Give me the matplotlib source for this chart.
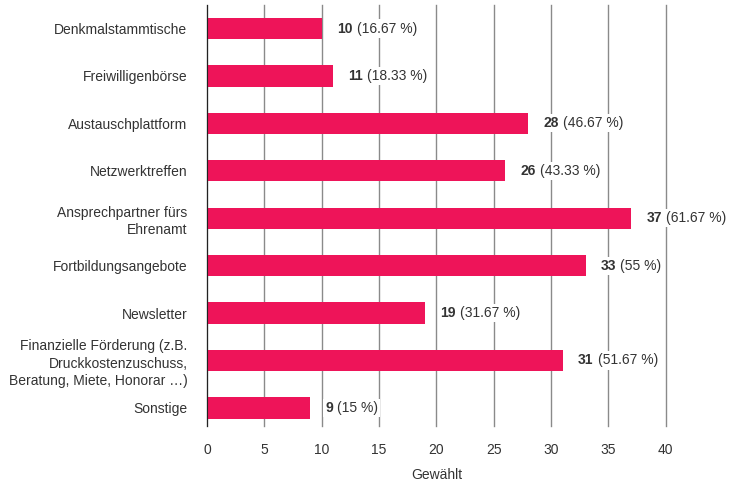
import matplotlib
matplotlib.use('Agg')
import matplotlib.pyplot as plt

categories = ['Denkmalstammtische', 'Freiwilligenbörse', 'Austauschplattform',
              'Netzwerktreffen', 'Ansprechpartner fürs\nEhrenamt',
              'Fortbildungsangebote', 'Newsletter',
              'Finanzielle Förderung (z.B.\nDruckkostenzuschuss,\nBeratung, Miete, Honorar …)',
              'Sonstige']
counts = [10, 11, 28, 26, 37, 33, 19, 31, 9]
percents = ['16.67', '18.33', '46.67', '43.33', '61.67', '55', '31.67', '51.67', '15']
xticks = [0, 5, 10, 15, 20, 25, 30, 35, 40]

plt.rcParams['font.family'] = ['Liberation Sans', 'DejaVu Sans']
text_color = '#333333'
bar_color = '#EE1459'

fig = plt.figure(figsize=(7.39, 4.84), dpi=100)
ax = fig.add_axes([0.280, 0.120, 0.621, 0.870])

y = list(range(len(categories)))
ax.barh(y, counts, height=0.45, color=bar_color, zorder=3)

ax.set_xlim(0, 40)
ax.set_ylim(8.38, -0.5)
ax.set_xticks(xticks)
ax.set_yticks(y)
ax.set_yticklabels(categories, fontsize=10, color=text_color, linespacing=1.3)
ax.tick_params(axis='both', length=0, colors=text_color, labelsize=10)
ax.tick_params(axis='x', pad=12)
ax.tick_params(axis='y', pad=14)
ax.grid(axis='x', color='#8a8a8a', linewidth=1, zorder=0)
for line in ax.get_xgridlines():
    line.set_clip_on(False)
for s in ['top', 'right', 'bottom']:
    ax.spines[s].set_visible(False)
ax.spines['left'].set_color('#222222')
ax.spines['left'].set_zorder(4)
ax.set_xlabel('Gewählt', fontsize=10, color=text_color, labelpad=8)

fig.canvas.draw()
renderer = fig.canvas.get_renderer()
box = dict(boxstyle='square,pad=0.15', facecolor='white', edgecolor='none')
for yi, c, p in zip(y, counts, percents):
    t = ax.annotate(str(c), (c, yi), xytext=(11, 0), textcoords='offset points',
                    va='center', ha='left', fontsize=10, fontweight='bold',
                    color=text_color, zorder=5, bbox=box)
    w = t.get_window_extent(renderer).width
    ax.annotate(f'({p} %)', (c, yi), xytext=(11 + w * 72 / fig.dpi + 3, 0),
                textcoords='offset points', va='center', ha='left',
                fontsize=10, color=text_color, zorder=5, bbox=box)

fig.savefig('out.png', dpi=100)
